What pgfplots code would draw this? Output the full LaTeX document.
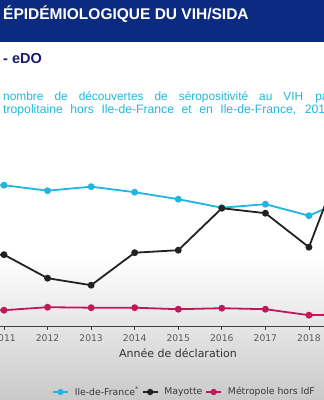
\documentclass[border=0pt]{standalone}
\usepackage{pgfplots}
\pgfplotsset{compat=1.18}
\usepackage{fontspec}
\setmainfont{Liberation Sans}
\newfontfamily\dejavu{DejaVu Sans}
\definecolor{banner}{HTML}{0C2A80}
\definecolor{navy}{HTML}{1A1A6E}
\definecolor{cyanl}{HTML}{22B5E0}
\definecolor{subc}{HTML}{22B8DA}
\definecolor{mag}{HTML}{C0185A}
\definecolor{blk}{HTML}{222222}
\begin{document}
\begin{tikzpicture}[x=1pt,y=1pt]
\useasboundingbox (0,0) rectangle (324,400);
\clip (0,0) rectangle (324,400);
\fill[white] (0,0) rectangle (324,400);
\shade[top color=white, bottom color=black!21] (0,0) rectangle (324,142);
\fill[banner] (0,358) rectangle (324,400);
\node[anchor=base west, inner sep=0, text=white, font=\bfseries\fontsize{15.5}{18}\selectfont] at (3,380) {ÉPIDÉMIOLOGIQUE DU VIH/SIDA};
\node[anchor=base west, inner sep=0, text=navy, font=\bfseries\fontsize{14.5}{16}\selectfont] at (3,336.5) {- eDO};
\node[anchor=base west, inner sep=0, text=subc, font=\fontsize{11.9}{14}\selectfont] at (3,299.5) {nombre\hspace{11pt}de\hspace{11pt}découvertes\hspace{11pt}de\hspace{11pt}séropositivité\hspace{11pt}au\hspace{11pt}VIH\hspace{12pt}par};
\node[anchor=base west, inner sep=0, text=subc, font=\fontsize{12.2}{14}\selectfont] at (3,286) {tropolitaine\hspace{7.5pt}hors\hspace{7.5pt}Ile-de-France\hspace{7.5pt}et\hspace{7.5pt}en\hspace{7.5pt}Ile-de-France,\hspace{8.5pt}2011-2018};
\begin{axis}[
  at={(0pt,73.3pt)}, anchor=south west, scale only axis,
  width=324pt, height=200pt,
  xmin=2010.908, xmax=2018.345, ymin=0, ymax=400,
  axis x line*=bottom, axis y line=none,
  x axis line style={-, black!75, line width=1pt},
  xtick={2011,...,2018},
  tick align=outside, major tick length=3pt,
  tick style={black!75, line width=0.8pt},
  /pgf/number format/1000 sep={},
  /pgf/number format/assume math mode=true,
  x tick label style={font=\dejavu\fontsize{9.2}{10}\selectfont, text=black!65, yshift=-1.5pt},
  xlabel={Année de déclaration},
  xlabel style={font=\dejavu\fontsize{11}{12}\selectfont, text=black!80, yshift=0pt, xshift=16pt},
  every axis plot/.append style={line width=1.8pt, mark=*, mark size=2.5pt},
  legend columns=3,
  legend style={at={(0.5694,-0.3265)}, anchor=center, draw=none, fill=none,
    font=\dejavu\fontsize{9.3}{10}\selectfont, text=black!78,
    /tikz/every odd column/.append style={column sep=4pt},
    /tikz/every even column/.append style={column sep=1pt}},
  legend image code/.code={\draw[#1, line width=1.6pt] (0pt,0pt) -- (15pt,0pt); \fill[#1] (7.5pt,0pt) circle (2.2pt);},
]
\addplot[cyanl, mark options={fill=cyanl, draw=cyanl}] coordinates {(2010,284) (2011,283) (2012,272) (2013,280) (2014,269) (2015,255) (2016,238) (2017,245) (2018,222) (2019,260)};
\addlegendentry{Ile-de-France\textsuperscript{*}}
\addplot[blk, mark options={fill=blk, draw=blk}] coordinates {(2010,145) (2011,144) (2012,97) (2013,83) (2014,148) (2015,153) (2016,237) (2017,227) (2018,159) (2019,388)};
\addlegendentry{Mayotte}
\addplot[mag, mark options={fill=mag, draw=mag}] coordinates {(2010,33) (2011,33) (2012,39) (2013,38) (2014,38) (2015,35) (2016,37) (2017,35) (2018,23) (2019,25)};
\addlegendentry{Métropole hors IdF}
\end{axis}
\end{tikzpicture}
\end{document}
